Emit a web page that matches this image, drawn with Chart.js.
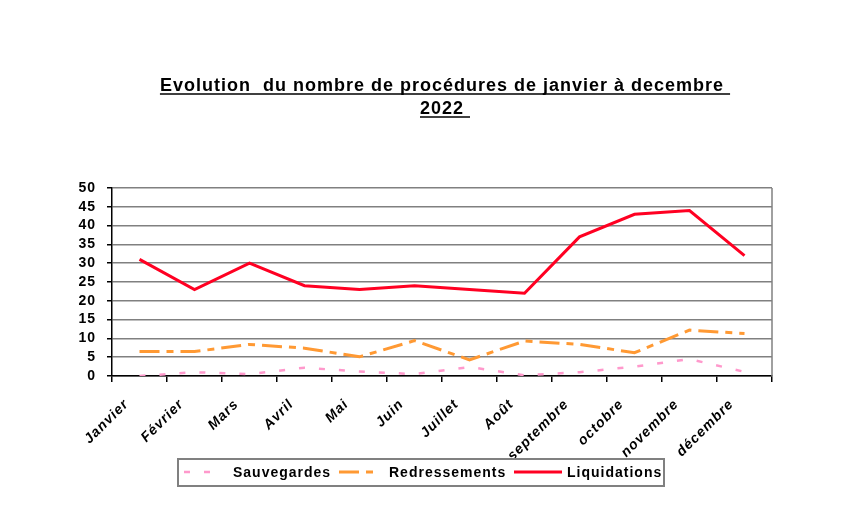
<!DOCTYPE html>
<html lang="fr">
<head>
<meta charset="UTF-8">
<title>Evolution du nombre de procédures 2022</title>
<script src="https://cdn.jsdelivr.net/npm/chart.js"></script>
<style>
  body { margin: 0; background: #fff; }
  #wrap { width: 845px; height: 520px; }
</style>
</head>
<body>
<div id="wrap"><canvas id="graph"></canvas></div>
<script>
const mois = ['Janvier', 'Février', 'Mars', 'Avril', 'Mai', 'Juin', 'Juillet', 'Août',
              'septembre', 'octobre', 'novembre', 'décembre'];
const sauvegardes   = [0, 1, 0.5, 2.2, 1.2, 0.5, 2.4, 0.2, 1, 2.5, 4.5, 1.1];
const redressements = [6.5, 6.5, 8.4, 7.4, 5.1, 9.4, 4.3, 9.3, 8.4, 6.2, 12.2, 11.3];
const liquidations  = [31, 23, 30, 24, 23, 24, 23, 22, 37, 43, 44, 32];
const titre = ['Evolution  du nombre de procédures de janvier à decembre ', '2022 '];

const police = '"Liberation Sans", Arial, sans-serif';

// titre souligné + cadre de droite + légende encadrée
const decor = {
  id: 'decor',
  beforeDraw(chart) {
    chart.ctx.letterSpacing = '1px';
  },
  afterDraw(chart) {
    const ctx = chart.ctx;
    const a = chart.chartArea;
    ctx.save();
    ctx.letterSpacing = '1px';

    // bord droit
    ctx.strokeStyle = '#808080';
    ctx.lineWidth = 1.5;
    ctx.beginPath();
    ctx.moveTo(a.right, a.top);
    ctx.lineTo(a.right, a.bottom);
    ctx.stroke();

    // titre
    ctx.fillStyle = '#000';
    ctx.strokeStyle = '#000';
    ctx.font = 'bold 18px ' + police;
    ctx.textAlign = 'left';
    ctx.textBaseline = 'alphabetic';
    const lignes = [91, 114];
    titre.forEach((t, i) => {
      const w = ctx.measureText(t).width;
      const x = 445 - w / 2;
      ctx.fillText(t, x, lignes[i]);
      ctx.lineWidth = 1.5;
      ctx.beginPath();
      ctx.moveTo(x, lignes[i] + 3);
      ctx.lineTo(x + w, lignes[i] + 3);
      ctx.stroke();
    });

    // légende
    ctx.strokeStyle = '#808080';
    ctx.lineWidth = 2;
    ctx.strokeRect(178, 459, 486, 27);
    const items = [
      { ds: 0, x1: 184, x2: 224, tx: 233 },
      { ds: 1, x1: 339, x2: 379, tx: 389 },
      { ds: 2, x1: 514, x2: 562, tx: 567 }
    ];
    ctx.font = 'bold 14px ' + police;
    ctx.textBaseline = 'middle';
    items.forEach(it => {
      const d = chart.data.datasets[it.ds];
      ctx.strokeStyle = d.borderColor;
      ctx.lineWidth = d.borderWidth;
      ctx.setLineDash(d.borderDash || []);
      ctx.beginPath();
      ctx.moveTo(it.x1, 472);
      ctx.lineTo(it.x2, 472);
      ctx.stroke();
      ctx.setLineDash([]);
      ctx.fillStyle = '#000';
      ctx.fillText(d.label, it.tx, 473);
    });
    ctx.restore();
  }
};

new Chart(document.getElementById('graph'), {
  type: 'line',
  data: {
    labels: mois,
    datasets: [
      { label: 'Sauvegardes', data: sauvegardes, borderColor: '#ff99cc', borderWidth: 2.5,
        borderDash: [6, 14], pointRadius: 0, tension: 0 },
      { label: 'Redressements', data: redressements, borderColor: '#ff9933', borderWidth: 3,
        borderDash: [20, 7, 7, 7], pointRadius: 0, tension: 0 },
      { label: 'Liquidations', data: liquidations, borderColor: '#ff0022', borderWidth: 3,
        pointRadius: 0, tension: 0 }
    ]
  },
  options: {
    responsive: true,
    maintainAspectRatio: false,
    animation: false,
    layout: { padding: { left: 0, right: 73, top: 188, bottom: 0 } },
    plugins: {
      legend: { display: false },
      title: { display: false },
      tooltip: { enabled: false }
    },
    scales: {
      x: {
        offset: true,
        afterFit(s) { s.height = 144; },
        grid: { offset: true, drawOnChartArea: false, drawTicks: true, tickLength: 6,
                color: '#000', lineWidth: 1.5 },
        border: { color: '#000', width: 1.5 },
        ticks: { color: '#000', maxRotation: 45, minRotation: 45, autoSkip: false,
                 padding: 14, labelOffset: -13,
                 font: { family: police, size: 14, weight: 'bold', style: 'italic' } }
      },
      y: {
        min: 0, max: 50,
        afterFit(s) { s.width = 112; },
        grid: { color: '#808080', lineWidth: 1.5, tickLength: 5, tickColor: '#000' },
        border: { color: '#000', width: 1.5 },
        ticks: { stepSize: 5, autoSkip: false, color: '#000', padding: 11,
                 font: { family: police, size: 14, weight: 'bold' } }
      }
    }
  },
  plugins: [decor]
});
</script>
</body>
</html>
